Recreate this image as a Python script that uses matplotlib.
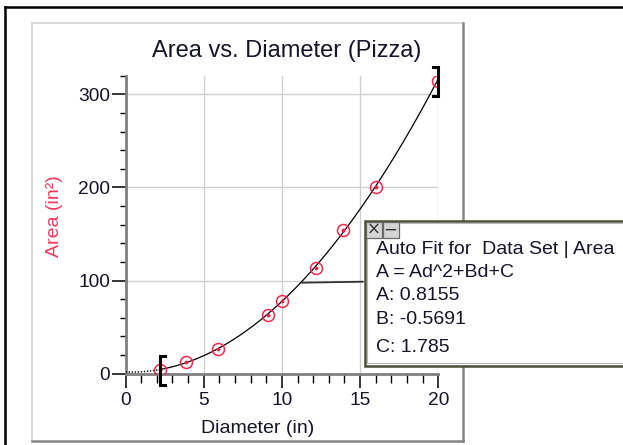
import numpy as np
import matplotlib
matplotlib.use("Agg")
import matplotlib.pyplot as plt
from matplotlib.patches import Rectangle
from matplotlib.lines import Line2D

# ---- data ----
diameter = [2.2, 3.9, 5.9, 9.1, 10.0, 12.2, 13.9, 16.0, 20.0]
area = [3.6, 12.6, 27.0, 62.8, 77.6, 113.0, 154.0, 201.0, 314.0]
fit_A, fit_B, fit_C = 0.8155, -0.5691, 1.785
x_ticks = [0, 5, 10, 15, 20]
y_ticks = [0, 100, 200, 300]
title = "Area vs. Diameter (Pizza)"
xlabel = "Diameter (in)"
ylabel = "Area (in²)"
fit_lines = ["Auto Fit for  Data Set | Area", "A = Ad^2+Bd+C",
             "A: 0.8155", "B: -0.5691", "C: 1.785"]

plt.rcParams['font.family'] = ['Liberation Sans', 'DejaVu Sans']

W, H = 623, 445
fig = plt.figure(figsize=(W / 100, H / 100), dpi=100)
fig.patch.set_facecolor("white")

def fx(px):
    return px / W

def fy(py):
    return 1 - py / H

TXT = "#15152a"
RED = "#f0284b"

# outer black border (top, left)
fig.add_artist(Line2D([fx(5), 1.0], [fy(6.7), fy(6.7)], color="black", lw=1.8))
fig.add_artist(Line2D([fx(5.2), fx(5.2)], [0.0, fy(6.7)], color="black", lw=1.8))
# gray frame
fig.add_artist(Line2D([fx(31.5), fx(463)], [fy(23), fy(23)], color="#d6d6d6", lw=1.3))
fig.add_artist(Line2D([fx(31.5), fx(31.5)], [fy(440.5), fy(23)], color="#d6d6d6", lw=1.3))
fig.add_artist(Line2D([fx(463), fx(463)], [fy(440.5), fy(23)], color="#858585", lw=1.8))
fig.add_artist(Line2D([fx(31.5), fx(463)], [fy(440.5), fy(440.5)], color="#858585", lw=1.8))

x0, x1 = 125.5, 438.3
y0, y1 = 373.7, 75.7
ax = fig.add_axes([fx(x0), fy(y0), (x1 - x0) / W, (y0 - y1) / H])
ax.set_xlim(0, 20)
ax.set_ylim(0, 320)

for s in ["top", "right"]:
    ax.spines[s].set_visible(False)
for s in ["left", "bottom"]:
    ax.spines[s].set_color("#808080")
    ax.spines[s].set_linewidth(2.0)

ax.set_xticks(x_ticks)
ax.set_yticks(y_ticks)
ax.set_xticks(np.arange(0, 21, 1), minor=True)
ax.set_yticks(np.arange(0, 321, 20), minor=True)
ax.tick_params(axis="both", which="major", direction="out", color="black",
               width=1.1, labelsize=13.8, labelcolor=TXT)
ax.tick_params(axis="x", which="major", length=10, pad=3.2)
ax.tick_params(axis="y", which="major", length=10, pad=1.2)
ax.tick_params(axis="x", which="minor", direction="out", length=6.5, width=1.0, color="black")
ax.tick_params(axis="y", which="minor", direction="out", length=4, width=1.0, color="black")

ax.grid(True, which="major", color="#cfcfcf", lw=1.0)
ax.set_axisbelow(True)

# fit curve
dmin, dmax = min(diameter), max(diameter)
xs_dot = np.linspace(0, dmin, 30)
xs_fit = np.linspace(dmin, dmax, 200)
f = lambda d: fit_A * d ** 2 + fit_B * d + fit_C
ax.plot(xs_dot, f(xs_dot), color="black", lw=1.0, ls=(0, (1, 1.2)), zorder=3)
ax.plot(xs_fit, f(xs_fit), color="black", lw=0.9, zorder=3)

# data points
ax.plot(diameter, area, ls="none", marker="o", ms=8.6, mfc="none", mec=RED, mew=1.1, zorder=4)
ax.plot(diameter, area, ls="none", marker="o", ms=1.8, color=RED, zorder=4)

# brackets at the fit range
def bracket(xd, yc, side):
    h = 15.5
    dx = 0.32 * side
    ax.plot([xd + dx, xd, xd, xd + dx], [yc + h, yc + h, yc - h, yc - h],
            color="black", lw=2.2, clip_on=False, zorder=6, solid_joinstyle="miter")

bracket(dmin, area[0], +1)
bracket(dmax, area[-1], -1)

# titles / labels
fig.text(fx(287), fy(51.5), title, ha="center", va="center", fontsize=17, color=TXT)
ax.set_xlabel(xlabel, fontsize=14, color=TXT)
ax.xaxis.set_label_coords(0.4236, -0.1826)
ax.xaxis.label.set_va("center")
ax.set_ylabel(ylabel, fontsize=14, color="#f23a5c")
ax.yaxis.set_label_coords(-0.2254, 0.53)
ax.yaxis.label.set_va("center")

# leader line from curve to fit box
dl = 11.2
ax.annotate("", xy=(dl, f(dl)), xycoords="data",
            xytext=(fx(363), fy(281.7)), textcoords="figure fraction",
            arrowprops=dict(arrowstyle="-", color="#333333", lw=1.3,
                            shrinkA=0, shrinkB=0), zorder=7)

# fit info box
bx0, by0, bx1, by1 = 364.5, 220.5, 640, 365.5
box = Rectangle((fx(bx0), fy(by1)), (bx1 - bx0) / W, (by1 - by0) / H,
                transform=fig.transFigure, facecolor="white", edgecolor="#4d4d35",
                lw=1.8, zorder=20)
fig.add_artist(box)
inner = Rectangle((fx(bx0 + 2.2), fy(by1 - 2.2)), (bx1 - bx0) / W, (by1 - by0 - 4.4) / H,
                  transform=fig.transFigure, facecolor="none", edgecolor="#b8b8b8",
                  lw=0.8, zorder=21)
fig.add_artist(inner)

# buttons
for i, ch in enumerate(["×", "−"]):
    bxa = 366 + i * 16.5
    btn = Rectangle((fx(bxa), fy(237.5)), 16 / W, 16 / H, transform=fig.transFigure,
                    facecolor="#d4d4d4", edgecolor="#6a6a6a", lw=0.9, zorder=22)
    fig.add_artist(btn)
    fig.text(fx(bxa + 8), fy(229.5), ch, ha="center", va="center", fontsize=12,
             color="#333333", zorder=23, family=["DejaVu Sans"])

line_y = [249, 272.7, 296, 320, 348]
for t, yy in zip(fit_lines, line_y):
    fig.text(fx(376.5), fy(yy), t, ha="left", va="center", fontsize=14,
             color=TXT, zorder=24)

fig.savefig("out.png", dpi=100, facecolor="white")
